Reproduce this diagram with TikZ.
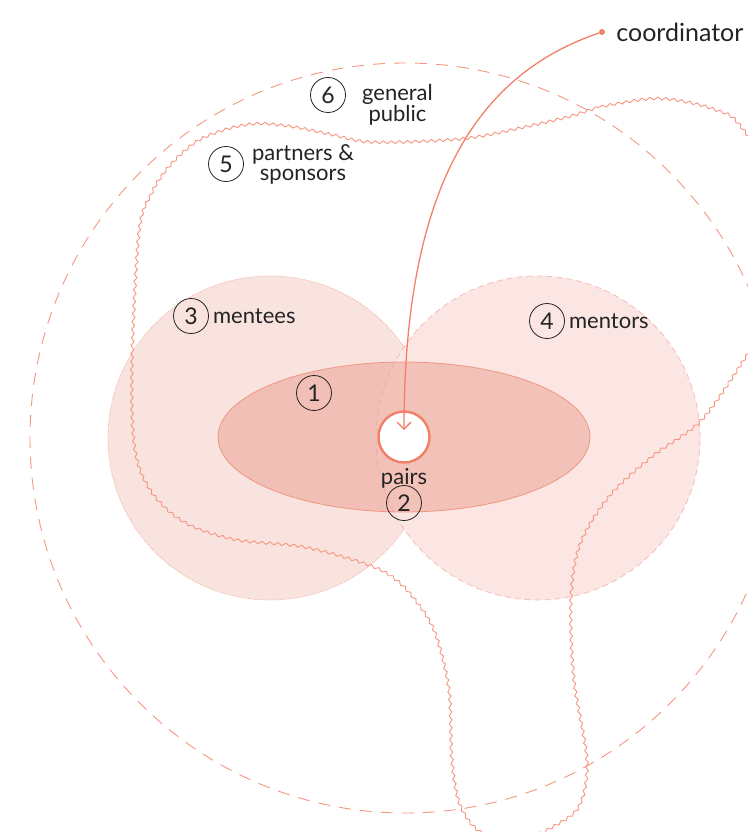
\documentclass[tikz,border=0pt]{standalone}
\usepackage{fontspec}
\setmainfont{Lato}
\usetikzlibrary{shapes.geometric,arrows.meta,decorations.pathmorphing,positioning}

\definecolor{salmon}{RGB}{242,128,104}
\definecolor{dashline}{RGB}{245,150,128}
\definecolor{menteefill}{RGB}{249,227,223}
\definecolor{menteeline}{RGB}{244,180,168}
\definecolor{mentorfill}{RGB}{251,230,228}
\definecolor{mentorline}{RGB}{244,190,182}
\definecolor{pairfill}{RGB}{235,157,141}
\definecolor{pairline}{RGB}{240,150,130}
\definecolor{ink}{RGB}{35,35,35}

\tikzset{
  num/.style={circle, draw=ink, line width=0.8pt, minimum size=35pt, inner sep=0pt,
    text=ink, font=\fontsize{23}{23}\selectfont},
  lbl/.style={text=ink, align=center, inner sep=0pt, font=\fontsize{22}{20}\selectfont},
  wave/.style={draw=dashline, line width=0.9pt,
    decorate, decoration={snake, segment length=8pt, amplitude=1.4pt}},
}

\begin{document}
\begin{tikzpicture}[x=1pt,y=-1pt]
\useasboundingbox (0,0) rectangle (747,832);

\node[circle, minimum size=324pt, fill=menteefill, draw=menteeline, densely dotted, line width=0.8pt] (mentees) at (270,438) {};
\node[circle, minimum size=324pt, fill=mentorfill, draw=mentorline, dash pattern=on 6pt off 4pt, line width=0.8pt] (mentors) at (538,438) {};
\node[ellipse, minimum width=372pt, minimum height=150pt, fill=pairfill, fill opacity=0.5, draw=pairline, line width=0.8pt] (program) at (404,437) {};
\node[circle, minimum size=750pt, draw=dashline, dash pattern=on 12pt off 9pt, line width=0.9pt] (public) at (405,438) {};

\draw[wave] plot[smooth cycle, tension=0.55] coordinates {
  (567,117) (600,107) (650,99) (683,102) (713,110) (735,122) (765,170) (785,250)
  (765,330) (747,353) (700,420) (650,457) (607,497) (578,545) (569,600) (572,680)
  (585,760) (578,805) (555,825) (515,842) (478,832) (458,805) (450,760) (447,690)
  (433,633) (413,600) (390,577) (360,563) (300,547) (233,540) (183,523) (150,493)
  (133,450) (130,367) (137,233) (150,193) (167,167) (193,143) (223,130) (255,124)
  (290,127) (330,135) (363,142) (413,142) (470,138) (520,128)};

\node[circle, minimum size=51pt, fill=white, draw=salmon, line width=2.4pt] (pairs) at (404,437) {};
\node[lbl, below=5pt of pairs] (pairstext) {pairs};
\node[num] (n2) at (404,503) {2};
\node[num] (n1) at (314,393) {1};
\node[num] (n3) at (191,316) {3};
\node[lbl, right=4pt of n3] (menteestext) {mentees};
\node[num] (n4) at (547,321) {4};
\node[lbl, right=4pt of n4] (mentorstext) {mentors};
\node[num] (n5) at (226,164) {5};
\node[lbl, right=8pt of n5] (partnerstext) {partners \&\\sponsors};
\node[num] (n6) at (328,95) {6};
\node[lbl, right=16pt of n6, yshift=-10pt] (publictext) {general\\public};

\node[circle, fill=salmon, minimum size=6pt, inner sep=0pt] (coord) at (602,32) {};
\node[lbl, right=11pt of coord, font=\fontsize{25}{25}\selectfont] (coordtext) {coordinator};
\draw[salmon, line width=1.3pt, shorten >=7pt, -{Straight Barb[length=7pt, width=14pt]}]
  (coord) .. controls (475,75) and (404,190) .. (pairs.center);
\end{tikzpicture}
\end{document}
